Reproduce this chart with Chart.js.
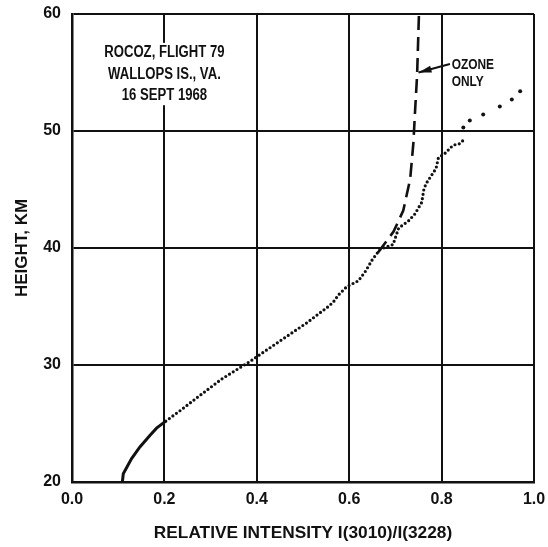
<!DOCTYPE html>
<html>
<head>
<meta charset="utf-8">
<script src="https://cdn.jsdelivr.net/npm/chart.js@4.4.1/dist/chart.umd.min.js"></script>
<style>
  body { margin: 0; background: #fff; }
  canvas { display: block; }
</style>
</head>
<body>
<canvas id="profile" width="548" height="547"></canvas>
<script>
/* Rocket ozone profile: relative intensity I(3010)/I(3228) against height */

/* measured profile, solid part near the ground */
var solidIntensity = [0.109, 0.111, 0.129, 0.147, 0.169, 0.183, 0.203];
var solidHeight    = [20.0, 20.7, 22.0, 23.0, 24.0, 24.6, 25.2];

/* measured profile, dotted part */
var dotIntensity = [0.203, 0.234, 0.277, 0.324, 0.385, 0.437, 0.508, 0.555, 0.566, 0.577, 0.595,
                    0.620, 0.635, 0.650, 0.667, 0.681, 0.695, 0.701, 0.707, 0.728, 0.742, 0.757,
                    0.762, 0.768, 0.788, 0.793, 0.811, 0.817, 0.826, 0.838, 0.850];
var dotHeight    = [25.2, 26.1, 27.4, 28.8, 30.3, 31.7, 33.6, 35.0, 35.4, 36.0, 36.7,
                    37.2, 38.0, 39.0, 39.9, 40.1, 40.3, 41.0, 41.7, 42.3, 42.9, 43.9,
                    45.1, 45.6, 46.8, 47.7, 48.2, 48.5, 48.8, 48.9, 49.3];

/* sparse points at the top of the flight */
var topIntensity = [0.847, 0.861, 0.890, 0.926, 0.952, 0.970];
var topHeight    = [50.3, 50.9, 51.4, 52.1, 52.7, 53.4];

/* computed curve for ozone only */
var ozoneIntensity = [0.662, 0.681, 0.696, 0.717, 0.732, 0.739, 0.742, 0.747, 0.751];
var ozoneHeight    = [39.6, 40.6, 41.4, 43.2, 45.9, 49.0, 51.3, 54.8, 60.0];

var xTicks = [0.0, 0.2, 0.4, 0.6, 0.8, 1.0];
var yTicks = [20, 30, 40, 50, 60];

var infoLines = ["ROCOZ, FLIGHT 79", "WALLOPS IS., VA.", "16 SEPT 1968"];
var ozoneLabel = ["OZONE", "ONLY"];

function pairs(xs, ys) {
  return xs.map(function (x, i) { return {x: x, y: ys[i]}; });
}

var sans = "'Liberation Sans', Arial, sans-serif";

// squeezed bold text, the lettering on the original plate is condensed
function narrowText(ctx, text, x, y, size, align) {
  var squeeze = 0.82;
  ctx.save();
  ctx.font = 'bold ' + size + 'px ' + sans;
  ctx.textBaseline = 'middle';
  ctx.textAlign = align;
  ctx.translate(x, y);
  ctx.scale(squeeze, 1);
  ctx.fillText(text, 0, 0);
  ctx.restore();
}

/* text box in the upper left and the arrow label for the dashed curve */
var notes = {
  id: 'notes',
  afterDatasetsDraw: function (chart) {
    var ctx = chart.ctx;
    var xs = chart.scales.x, ys = chart.scales.y;
    ctx.save();

    // info box (white backing hides the grid line)
    var cx = xs.getPixelForValue(0.2);
    var rows = [56.68, 54.85, 53.06].map(function (h) { return ys.getPixelForValue(h); });
    ctx.fillStyle = '#fff';
    ctx.fillRect(cx - 72, rows[0] - 10, 144, rows[2] - rows[0] + 20);
    ctx.fillStyle = '#111';
    infoLines.forEach(function (t, i) { narrowText(ctx, t, cx, rows[i], 16, 'center'); });

    // arrow to the ozone-only curve
    var x0 = xs.getPixelForValue(0.818), y0 = ys.getPixelForValue(55.72);
    var x1 = xs.getPixelForValue(0.750), y1 = ys.getPixelForValue(55.0);
    var ang = Math.atan2(y1 - y0, x1 - x0);
    ctx.strokeStyle = '#111';
    ctx.lineWidth = 2;
    ctx.beginPath();
    ctx.moveTo(x0, y0);
    ctx.lineTo(x1, y1);
    ctx.stroke();
    ctx.beginPath();
    ctx.moveTo(x1, y1);
    ctx.lineTo(x1 - 13 * Math.cos(ang) + 3.5 * Math.sin(ang), y1 - 13 * Math.sin(ang) - 3.5 * Math.cos(ang));
    ctx.lineTo(x1 - 13 * Math.cos(ang) - 3.5 * Math.sin(ang), y1 - 13 * Math.sin(ang) + 3.5 * Math.cos(ang));
    ctx.closePath();
    ctx.fill();

    var lx = xs.getPixelForValue(0.822);
    narrowText(ctx, ozoneLabel[0], lx, ys.getPixelForValue(55.6), 14.5, 'left');
    narrowText(ctx, ozoneLabel[1], lx, ys.getPixelForValue(54.2), 14.5, 'left');
    ctx.restore();
  }
};

var chart = new Chart(document.getElementById('profile'), {
  type: 'scatter',
  data: {
    datasets: [
      {
        data: pairs(ozoneIntensity, ozoneHeight),
        showLine: true,
        borderColor: '#111',
        borderWidth: 2.6,
        borderDash: [14, 7],
        pointRadius: 0
      },
      {
        data: pairs(dotIntensity, dotHeight),
        showLine: true,
        borderColor: '#111',
        borderWidth: 3.2,
        borderDash: [0, 4.4],
        borderCapStyle: 'round',
        pointRadius: 0
      },
      {
        data: pairs(topIntensity, topHeight),
        showLine: false,
        backgroundColor: '#111',
        borderWidth: 0,
        pointRadius: 2
      },
      {
        data: pairs(solidIntensity, solidHeight),
        showLine: true,
        borderColor: '#111',
        borderWidth: 3,
        pointRadius: 0
      }
    ]
  },
  options: {
    responsive: false,
    animation: false,
    events: [],
    layout: {padding: {top: 14, right: 14, left: 0, bottom: 0}},
    plugins: {legend: {display: false}, tooltip: {enabled: false}},
    scales: {
      x: {
        type: 'linear',
        min: 0, max: 1,
        afterBuildTicks: function (s) { s.ticks = xTicks.map(function (v) { return {value: v}; }); },
        afterFit: function (s) { s.height = 65; s.paddingLeft = 0; s.paddingRight = 0; },
        grid: {color: '#111', lineWidth: 2, drawTicks: false},
        border: {color: '#111', width: 2.5},
        ticks: {
          padding: 8,
          color: '#111',
          font: {family: sans, size: 16, weight: 'bold'},
          callback: function (v) { return Number(v).toFixed(1); }
        },
        title: {
          display: true,
          text: 'RELATIVE INTENSITY I(3010)/I(3228)',
          color: '#111',
          font: {family: sans, size: 17.3, weight: 'bold'},
          padding: {top: 0, bottom: 3}
        }
      },
      y: {
        type: 'linear',
        min: 20, max: 60,
        afterBuildTicks: function (s) { s.ticks = yTicks.map(function (v) { return {value: v}; }); },
        afterFit: function (s) { s.width = 72; s.paddingTop = 0; s.paddingBottom = 0; },
        grid: {color: '#111', lineWidth: 2, drawTicks: false},
        border: {color: '#111', width: 2.5},
        ticks: {
          padding: 11,
          color: '#111',
          font: {family: sans, size: 16, weight: 'bold'}
        },
        title: {
          display: true,
          text: 'HEIGHT, KM',
          color: '#111',
          font: {family: sans, size: 17, weight: 'bold'},
          padding: {top: 12, bottom: 0}
        }
      }
    }
  },
  plugins: [notes]
});
</script>
</body>
</html>
